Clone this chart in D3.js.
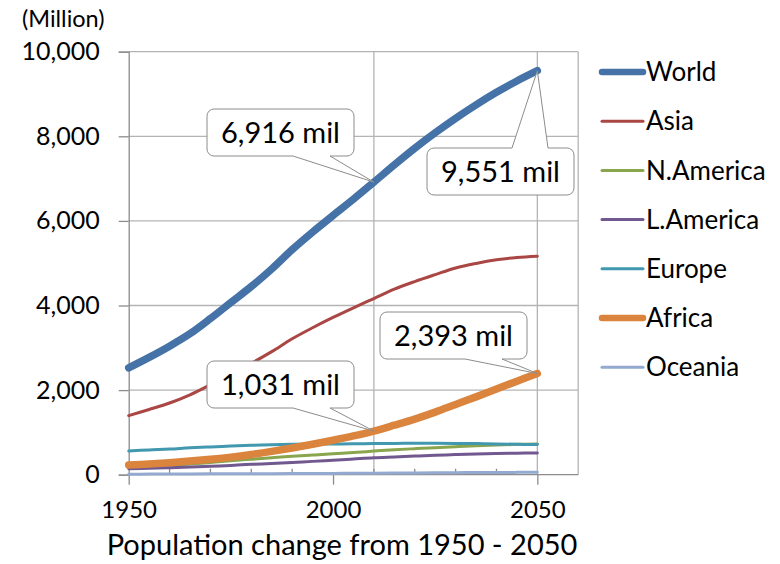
<!DOCTYPE html>
<html>
<head>
<meta charset="utf-8">
<script src="https://cdn.jsdelivr.net/npm/d3@7"></script>
<style>
  html, body { margin: 0; padding: 0; background: #fff; }
  svg { display: block; font-family: Lato, "Open Sans", sans-serif; }
</style>
</head>
<body>
<svg id="chart" width="780" height="564"></svg>
<script>
// Population by region, millions, every 5 years 1950–2050
const years = d3.range(1950, 2051, 5);
const seriesNames = ["World", "Asia", "N.America", "L.America", "Europe", "Africa", "Oceania"];
const world    = [2526, 2773, 3038, 3333, 3691, 4071, 4449, 4863, 5321, 5736, 6128, 6514, 6916, 7324, 7717, 8083, 8425, 8743, 9039, 9308, 9551];
const asia     = [1396, 1541, 1695, 1889, 2128, 2376, 2634, 2910, 3213, 3474, 3717, 3945, 4165, 4385, 4566, 4730, 4887, 4995, 5080, 5135, 5164];
const nAmerica = [170, 190, 215, 250, 290, 330, 365, 400, 435, 465, 495, 525, 558, 590, 615, 640, 662, 684, 702, 717, 728];
const lAmerica = [140, 150, 165, 180, 200, 220, 245, 265, 290, 315, 340, 370, 400, 420, 440, 460, 475, 490, 500, 508, 513];
const europe   = [560, 585, 605, 635, 657, 676, 694, 707, 720, 727, 726, 730, 736, 740, 742, 742, 740, 735, 728, 720, 712];
const africa   = [229, 254, 285, 322, 366, 416, 478, 551, 632, 720, 814, 916, 1031, 1170, 1315, 1480, 1660, 1840, 2025, 2210, 2393];
const oceania  = [13, 14, 16, 18, 20, 21, 23, 25, 27, 29, 31, 34, 37, 39, 42, 45, 48, 50, 52, 55, 57];
const yTicks = [0, 2000, 4000, 6000, 8000, 10000];
const xTicks = [1950, 2000, 2050];
const minorYears = d3.range(1960, 2051, 10);
// Called-out points: [series, year]
const callouts = [["World", 2010], ["World", 2050], ["Africa", 2010], ["Africa", 2050]];

const valuesByName = {
  "World": world, "Asia": asia, "N.America": nAmerica, "L.America": lAmerica,
  "Europe": europe, "Africa": africa, "Oceania": oceania
};
const colors = {
  "World": "#4572a7", "Asia": "#aa4643", "N.America": "#89a54e", "L.America": "#71588f",
  "Europe": "#4198af", "Africa": "#db843d", "Oceania": "#93a9cf"
};
const widths = { "World": 7.5, "Africa": 7.5 };

const svg = d3.select("#chart");
const x = d3.scaleLinear().domain([1950, 2060]).range([128.7, 578.2]);
const y = d3.scaleLinear().domain([0, 10000]).range([474.7, 51.7]);
const grid = "#b4b4b4";
const axisCol = "#8c8c8c";

// horizontal gridlines
svg.append("g").selectAll("line").data(yTicks.filter(d => d > 0)).join("line")
  .attr("x1", x(1950)).attr("x2", x(2060))
  .attr("y1", d => y(d)).attr("y2", d => y(d))
  .attr("stroke", grid).attr("stroke-width", 1.3);

// vertical reference lines at the called-out years and the right edge
svg.append("g").selectAll("line").data([2010, 2050, 2060]).join("line")
  .attr("x1", d => x(d)).attr("x2", d => x(d))
  .attr("y1", y(10000)).attr("y2", y(0))
  .attr("stroke", grid).attr("stroke-width", 1.3);

// y axis
const yAxis = svg.append("g").attr("transform", `translate(${x(1950)},0)`)
  .call(d3.axisLeft(y).tickValues(yTicks).tickSize(10).tickPadding(19).tickFormat(d3.format(",")));
yAxis.select(".domain").attr("stroke", axisCol).attr("stroke-width", 1.3);
yAxis.selectAll(".tick line").attr("stroke", axisCol).attr("stroke-width", 1.3);
yAxis.selectAll(".tick text").attr("font-family", "Lato, sans-serif").attr("font-size", 25).attr("fill", "#000");

// x axis
const xAxis = svg.append("g").attr("transform", `translate(0,${y(0)})`)
  .call(d3.axisBottom(x).tickValues(xTicks).tickSize(10).tickPadding(16).tickFormat(d3.format("d")));
xAxis.select(".domain").attr("d", `M${x(1950)},0H${x(2060)}`).attr("stroke", axisCol).attr("stroke-width", 1.3);
xAxis.selectAll(".tick line").attr("stroke", axisCol).attr("stroke-width", 1.3);
xAxis.selectAll(".tick text").attr("font-family", "Lato, sans-serif").attr("font-size", 24).attr("fill", "#000");
xAxis.append("g").selectAll("line").data(minorYears.filter(d => !xTicks.includes(d))).join("line")
  .attr("x1", d => x(d)).attr("x2", d => x(d)).attr("y1", 0).attr("y2", -6)
  .attr("stroke", axisCol).attr("stroke-width", 1.3);

// series lines
const line = d3.line().x((d, i) => x(years[i])).y(d => y(d)).curve(d3.curveCatmullRom.alpha(0.5));
svg.append("g").selectAll("path").data(seriesNames).join("path")
  .attr("d", n => line(valuesByName[n]))
  .attr("fill", "none")
  .attr("stroke", n => colors[n])
  .attr("stroke-width", n => widths[n] || 3)
  .attr("stroke-linecap", "round");

// unit label
svg.append("text").attr("x", 22).attr("y", 27).attr("font-size", 23.5).text("(Million)");

// axis title
svg.append("text").attr("x", 342).attr("y", 555).attr("text-anchor", "middle")
  .attr("font-size", 29).text("Population change from 1950 - 2050");

// legend
const legend = svg.append("g").selectAll("g").data(seriesNames).join("g")
  .attr("transform", (d, i) => `translate(602,${72 + i * 49.2})`);
legend.append("line").attr("x1", 0).attr("x2", 41)
  .attr("stroke", n => colors[n]).attr("stroke-width", n => (widths[n] ? 6.5 : 3))
  .attr("stroke-linecap", "round");
legend.append("text").attr("x", 44).attr("dy", "0.35em").attr("font-size", 26).text(n => n);

// callout boxes: box position and where the pointer leaves the box edge
const boxLayout = {
  "World-2010":  { left: 207, top: 109, side: "bottom", b0: 293, b1: 330 },
  "World-2050":  { left: 427, top: 148, side: "top",    b0: 512, b1: 548 },
  "Africa-2010": { left: 207, top: 361, side: "bottom", b0: 293, b1: 330 },
  "Africa-2050": { left: 380, top: 312, side: "bottom", b0: 465, b1: 502 }
};
const bw = 147, bh = 47, r = 7;
function calloutPath(L, px, py) {
  const x0 = L.left, y0 = L.top, x1 = x0 + bw, y1 = y0 + bh;
  let p = `M${x0 + r},${y0}`;
  if (L.side === "top") p += `H${L.b0}L${px},${py}L${L.b1},${y0}`;
  p += `H${x1 - r}A${r},${r} 0 0 1 ${x1},${y0 + r}V${y1 - r}A${r},${r} 0 0 1 ${x1 - r},${y1}`;
  if (L.side === "bottom") p += `H${L.b1}L${px},${py}L${L.b0},${y1}`;
  p += `H${x0 + r}A${r},${r} 0 0 1 ${x0},${y1 - r}V${y0 + r}A${r},${r} 0 0 1 ${x0 + r},${y0}Z`;
  return p;
}
const fmt = d3.format(",");
const co = svg.append("g").selectAll("g").data(callouts).join("g");
co.each(function ([name, yr]) {
  const v = valuesByName[name][years.indexOf(yr)];
  const L = boxLayout[`${name}-${yr}`];
  const g = d3.select(this);
  g.append("path").attr("d", calloutPath(L, x(yr), y(v)))
    .attr("fill", "#fff").attr("stroke", "#8c8c8c").attr("stroke-width", 1);
  g.append("text").attr("x", L.left + bw / 2).attr("y", L.top + bh / 2).attr("dy", "0.36em")
    .attr("text-anchor", "middle").attr("font-size", 29).text(`${fmt(v)} mil`);
});
</script>
</body>
</html>
